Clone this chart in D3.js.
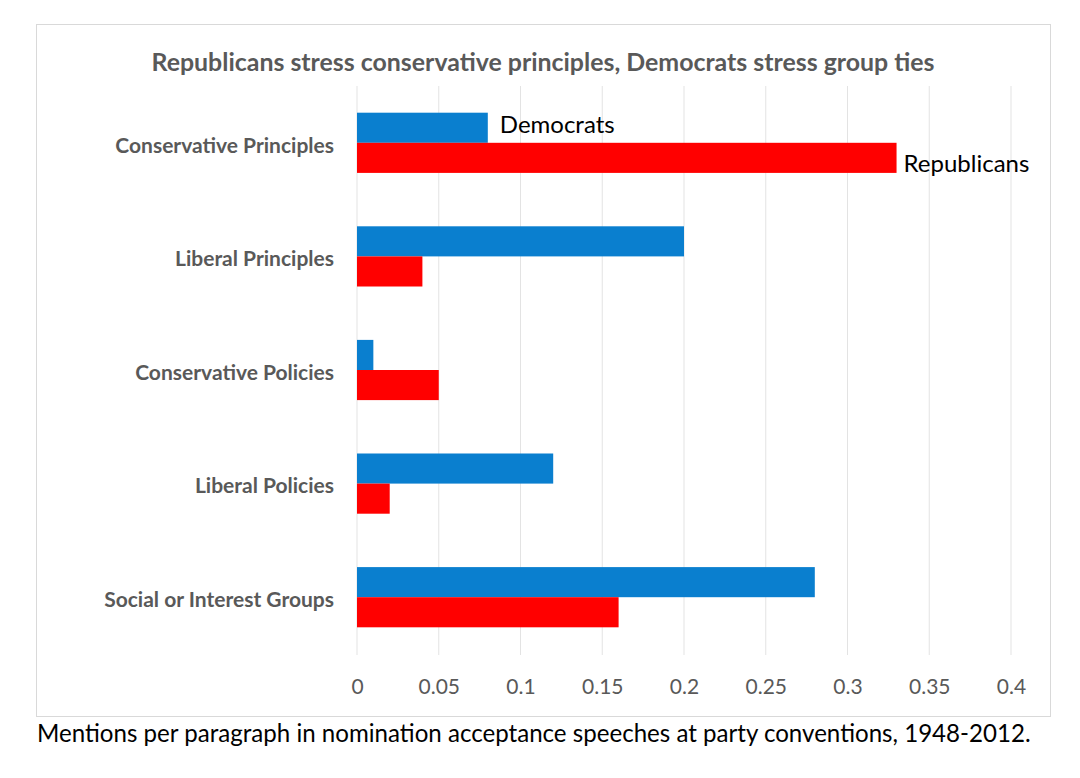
<!DOCTYPE html>
<html>
<head>
<meta charset="utf-8">
<script src="https://cdn.jsdelivr.net/npm/d3@7"></script>
<style>
  body { margin: 0; background: #fff; }
  svg { display: block; font-family: Lato, "Open Sans", sans-serif; }
</style>
</head>
<body>
<svg id="canvas" width="1080" height="778"></svg>
<script>
// data
var categories = ['Conservative Principles', 'Liberal Principles', 'Conservative Policies', 'Liberal Policies', 'Social or Interest Groups'];
var democrats = [0.08, 0.2, 0.01, 0.12, 0.28];
var republicans = [0.33, 0.04, 0.05, 0.02, 0.16];
var series = ['Democrats', 'Republicans'];
var ticks = [0, 0.05, 0.1, 0.15, 0.2, 0.25, 0.3, 0.35, 0.4];

var colors = { Democrats: '#0a7fcf', Republicans: '#ff0000' };

var svg = d3.select('#canvas');

// frame
svg.append('rect')
  .attr('x', 36.5).attr('y', 24.5).attr('width', 1014).attr('height', 692)
  .style('fill', '#fff').style('stroke', '#d9d9d9').style('stroke-width', 1);

// title
svg.append('text')
  .attr('x', 543).attr('y', 71).attr('text-anchor', 'middle')
  .style('font-size', '24.9px').style('font-weight', 'bold').style('fill', '#595959')
  .text('Republicans stress conservative principles, Democrats stress group ties');

// scales
var x = d3.scaleLinear().domain([0, 0.4]).range([357, 1011]);
var y = d3.scaleBand().domain(categories).range([86, 654]).paddingInner(0.47).paddingOuter(0.235);
var ySub = d3.scaleBand().domain(series).range([0, y.bandwidth()]);

// gridlines
svg.append('g').selectAll('line').data(ticks).enter().append('line')
  .attr('x1', d => x(d)).attr('x2', d => x(d))
  .attr('y1', 86).attr('y2', 655)
  .style('stroke', '#e3e3e3').style('stroke-width', 1);

// x axis labels
var xAxis = svg.append('g').attr('transform', 'translate(0,' + 679 + ')')
  .call(d3.axisBottom(x).tickValues(ticks).tickSize(0).tickPadding(0).tickFormat(d => String(d)));
xAxis.select('.domain').remove();
xAxis.selectAll('text')
  .attr('dy', '0.71em')
  .style('font-family', 'Lato, sans-serif').style('font-size', '21px').style('fill', '#595959');

// y axis labels
var yAxis = svg.append('g').attr('transform', 'translate(' + 334 + ',3)')
  .call(d3.axisLeft(y).tickSize(0).tickPadding(0));
yAxis.select('.domain').remove();
yAxis.selectAll('text')
  .style('font-family', 'Lato, sans-serif').style('font-size', '21px').style('font-weight', 'bold').style('fill', '#595959');

// bars
var rows = categories.map((c, i) => ({ cat: c, Democrats: democrats[i], Republicans: republicans[i] }));
var groups = svg.append('g').selectAll('g').data(rows).enter().append('g')
  .attr('transform', d => 'translate(0,' + y(d.cat) + ')');
groups.selectAll('rect').data(d => series.map(s => ({ key: s, value: d[s] }))).enter().append('rect')
  .attr('x', x(0))
  .attr('y', d => ySub(d.key))
  .attr('width', d => x(d.value) - x(0))
  .attr('height', ySub.bandwidth())
  .style('fill', d => colors[d.key]);

// series labels next to first category
var first = rows[0];
svg.append('text')
  .attr('x', x(first.Democrats) + 12)
  .attr('y', y(first.cat) + ySub('Democrats') + 20)
  .style('font-size', '24px').style('fill', '#000')
  .text('Democrats');
svg.append('text')
  .attr('x', x(first.Republicans) + 7)
  .attr('y', y(first.cat) + ySub('Republicans') + ySub.bandwidth() - 1)
  .style('font-size', '24px').style('fill', '#000')
  .text('Republicans');

// caption
svg.append('text')
  .attr('x', 37).attr('y', 742)
  .style('font-size', '24.1px').style('fill', '#000')
  .text('Mentions per paragraph in nomination acceptance speeches at party conventions, 1948-2012.');
</script>
</body>
</html>
